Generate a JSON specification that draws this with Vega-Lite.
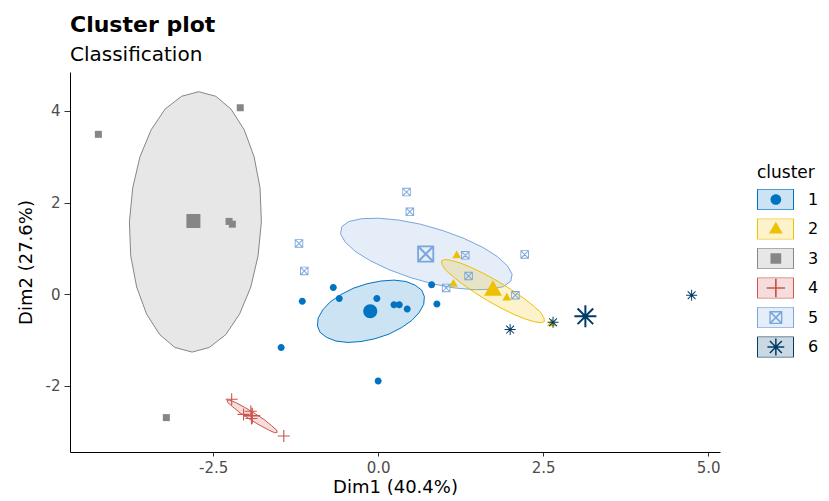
{
  "$schema": "https://vega.github.io/schema/vega-lite/v6.json",
  "width": 650,
  "height": 380,
  "autosize": {"type": "none"},
  "padding": {"left": 70, "top": 72, "right": 109, "bottom": 49},
  "background": "white",
  "title": {
    "text": "Cluster plot",
    "subtitle": "Classification",
    "anchor": "start",
    "frame": "group",
    "font": "DejaVu Sans",
    "fontSize": 22,
    "fontWeight": "bold",
    "color": "#000000",
    "subtitleFont": "DejaVu Sans",
    "subtitleFontSize": 20,
    "subtitleColor": "#000000",
    "subtitlePadding": 8,
    "offset": 6
  },
  "datasets": {
    "ellipses": [
      {"cluster": 3, "i": 0, "x": -1.77, "y": 1.58}, {"cluster": 3, "i": 1, "x": -1.79, "y": 2.32}, {"cluster": 3, "i": 2, "x": -1.88, "y": 3.0}, {"cluster": 3, "i": 3, "x": -2.03, "y": 3.59}, {"cluster": 3, "i": 4, "x": -2.23, "y": 4.04}, {"cluster": 3, "i": 5, "x": -2.46, "y": 4.32}, {"cluster": 3, "i": 6, "x": -2.72, "y": 4.42}, {"cluster": 3, "i": 7, "x": -2.98, "y": 4.32}, {"cluster": 3, "i": 8, "x": -3.23, "y": 4.04}, {"cluster": 3, "i": 9, "x": -3.44, "y": 3.59}, {"cluster": 3, "i": 10, "x": -3.61, "y": 3.0}, {"cluster": 3, "i": 11, "x": -3.72, "y": 2.32}, {"cluster": 3, "i": 12, "x": -3.77, "y": 1.58}, {"cluster": 3, "i": 13, "x": -3.75, "y": 0.84}, {"cluster": 3, "i": 14, "x": -3.66, "y": 0.16}, {"cluster": 3, "i": 15, "x": -3.51, "y": -0.43}, {"cluster": 3, "i": 16, "x": -3.31, "y": -0.88}, {"cluster": 3, "i": 17, "x": -3.08, "y": -1.16}, {"cluster": 3, "i": 18, "x": -2.82, "y": -1.26}, {"cluster": 3, "i": 19, "x": -2.56, "y": -1.16}, {"cluster": 3, "i": 20, "x": -2.31, "y": -0.88}, {"cluster": 3, "i": 21, "x": -2.1, "y": -0.43}, {"cluster": 3, "i": 22, "x": -1.93, "y": 0.16}, {"cluster": 3, "i": 23, "x": -1.82, "y": 0.84},
      {"cluster": 5, "i": 0, "x": 1.96, "y": 0.62}, {"cluster": 5, "i": 1, "x": 1.81, "y": 0.82}, {"cluster": 5, "i": 2, "x": 1.59, "y": 1.02}, {"cluster": 5, "i": 3, "x": 1.3, "y": 1.22}, {"cluster": 5, "i": 4, "x": 0.98, "y": 1.39}, {"cluster": 5, "i": 5, "x": 0.64, "y": 1.53}, {"cluster": 5, "i": 6, "x": 0.31, "y": 1.62}, {"cluster": 5, "i": 7, "x": 0.01, "y": 1.66}, {"cluster": 5, "i": 8, "x": -0.25, "y": 1.65}, {"cluster": 5, "i": 9, "x": -0.44, "y": 1.59}, {"cluster": 5, "i": 10, "x": -0.55, "y": 1.48}, {"cluster": 5, "i": 11, "x": -0.57, "y": 1.32}, {"cluster": 5, "i": 12, "x": -0.5, "y": 1.14}, {"cluster": 5, "i": 13, "x": -0.35, "y": 0.94}, {"cluster": 5, "i": 14, "x": -0.13, "y": 0.74}, {"cluster": 5, "i": 15, "x": 0.16, "y": 0.54}, {"cluster": 5, "i": 16, "x": 0.48, "y": 0.37}, {"cluster": 5, "i": 17, "x": 0.82, "y": 0.23}, {"cluster": 5, "i": 18, "x": 1.15, "y": 0.14}, {"cluster": 5, "i": 19, "x": 1.46, "y": 0.1}, {"cluster": 5, "i": 20, "x": 1.71, "y": 0.11}, {"cluster": 5, "i": 21, "x": 1.9, "y": 0.17}, {"cluster": 5, "i": 22, "x": 2.01, "y": 0.29}, {"cluster": 5, "i": 23, "x": 2.03, "y": 0.44},
      {"cluster": 1, "i": 0, "x": 0.69, "y": -0.22}, {"cluster": 1, "i": 1, "x": 0.7, "y": -0.05}, {"cluster": 1, "i": 2, "x": 0.66, "y": 0.09}, {"cluster": 1, "i": 3, "x": 0.56, "y": 0.2}, {"cluster": 1, "i": 4, "x": 0.42, "y": 0.28}, {"cluster": 1, "i": 5, "x": 0.24, "y": 0.31}, {"cluster": 1, "i": 6, "x": 0.04, "y": 0.29}, {"cluster": 1, "i": 7, "x": -0.17, "y": 0.23}, {"cluster": 1, "i": 8, "x": -0.38, "y": 0.13}, {"cluster": 1, "i": 9, "x": -0.57, "y": -0.01}, {"cluster": 1, "i": 10, "x": -0.73, "y": -0.17}, {"cluster": 1, "i": 11, "x": -0.84, "y": -0.34}, {"cluster": 1, "i": 12, "x": -0.91, "y": -0.52}, {"cluster": 1, "i": 13, "x": -0.92, "y": -0.69}, {"cluster": 1, "i": 14, "x": -0.88, "y": -0.83}, {"cluster": 1, "i": 15, "x": -0.78, "y": -0.94}, {"cluster": 1, "i": 16, "x": -0.64, "y": -1.02}, {"cluster": 1, "i": 17, "x": -0.46, "y": -1.05}, {"cluster": 1, "i": 18, "x": -0.26, "y": -1.03}, {"cluster": 1, "i": 19, "x": -0.05, "y": -0.97}, {"cluster": 1, "i": 20, "x": 0.16, "y": -0.87}, {"cluster": 1, "i": 21, "x": 0.35, "y": -0.73}, {"cluster": 1, "i": 22, "x": 0.51, "y": -0.57}, {"cluster": 1, "i": 23, "x": 0.62, "y": -0.4},
      {"cluster": 2, "i": 0, "x": 2.52, "y": -0.59}, {"cluster": 2, "i": 1, "x": 2.47, "y": -0.62}, {"cluster": 2, "i": 2, "x": 2.37, "y": -0.6}, {"cluster": 2, "i": 3, "x": 2.23, "y": -0.54}, {"cluster": 2, "i": 4, "x": 2.06, "y": -0.44}, {"cluster": 2, "i": 5, "x": 1.86, "y": -0.3}, {"cluster": 2, "i": 6, "x": 1.66, "y": -0.14}, {"cluster": 2, "i": 7, "x": 1.46, "y": 0.04}, {"cluster": 2, "i": 8, "x": 1.28, "y": 0.22}, {"cluster": 2, "i": 9, "x": 1.13, "y": 0.39}, {"cluster": 2, "i": 10, "x": 1.02, "y": 0.53}, {"cluster": 2, "i": 11, "x": 0.97, "y": 0.65}, {"cluster": 2, "i": 12, "x": 0.96, "y": 0.73}, {"cluster": 2, "i": 13, "x": 1.01, "y": 0.76}, {"cluster": 2, "i": 14, "x": 1.11, "y": 0.74}, {"cluster": 2, "i": 15, "x": 1.25, "y": 0.68}, {"cluster": 2, "i": 16, "x": 1.42, "y": 0.58}, {"cluster": 2, "i": 17, "x": 1.62, "y": 0.44}, {"cluster": 2, "i": 18, "x": 1.82, "y": 0.28}, {"cluster": 2, "i": 19, "x": 2.02, "y": 0.1}, {"cluster": 2, "i": 20, "x": 2.2, "y": -0.08}, {"cluster": 2, "i": 21, "x": 2.35, "y": -0.25}, {"cluster": 2, "i": 22, "x": 2.46, "y": -0.39}, {"cluster": 2, "i": 23, "x": 2.51, "y": -0.51},
      {"cluster": 4, "i": 0, "x": -1.53, "y": -3.01}, {"cluster": 4, "i": 1, "x": -1.57, "y": -3.02}, {"cluster": 4, "i": 2, "x": -1.66, "y": -2.96}, {"cluster": 4, "i": 3, "x": -1.79, "y": -2.86}, {"cluster": 4, "i": 4, "x": -1.94, "y": -2.73}, {"cluster": 4, "i": 5, "x": -2.09, "y": -2.59}, {"cluster": 4, "i": 6, "x": -2.2, "y": -2.46}, {"cluster": 4, "i": 7, "x": -2.28, "y": -2.36}, {"cluster": 4, "i": 8, "x": -2.29, "y": -2.31}, {"cluster": 4, "i": 9, "x": -2.25, "y": -2.31}, {"cluster": 4, "i": 10, "x": -2.16, "y": -2.36}, {"cluster": 4, "i": 11, "x": -2.03, "y": -2.46}, {"cluster": 4, "i": 12, "x": -1.88, "y": -2.59}, {"cluster": 4, "i": 13, "x": -1.73, "y": -2.73}, {"cluster": 4, "i": 14, "x": -1.62, "y": -2.86}, {"cluster": 4, "i": 15, "x": -1.54, "y": -2.96}
    ],
    "points": [
      {"cluster": "1", "x": -0.68, "y": 0.15}, {"cluster": "1", "x": -1.15, "y": -0.15}, {"cluster": "1", "x": -0.59, "y": -0.09}, {"cluster": "1", "x": -0.02, "y": -0.09}, {"cluster": "1", "x": 0.24, "y": -0.23}, {"cluster": "1", "x": 0.32, "y": -0.23}, {"cluster": "1", "x": 0.44, "y": -0.32}, {"cluster": "1", "x": 0.81, "y": 0.21}, {"cluster": "1", "x": 0.89, "y": -0.21}, {"cluster": "1", "x": -1.47, "y": -1.16}, {"cluster": "1", "x": 0.0, "y": -1.89},
      {"cluster": "2", "x": 1.19, "y": 0.85}, {"cluster": "2", "x": 1.14, "y": 0.23}, {"cluster": "2", "x": 1.95, "y": -0.07}, {"cluster": "2", "x": 2.63, "y": -0.63},
      {"cluster": "3", "x": -4.24, "y": 3.49}, {"cluster": "3", "x": -2.09, "y": 4.07}, {"cluster": "3", "x": -2.26, "y": 1.59}, {"cluster": "3", "x": -2.21, "y": 1.53}, {"cluster": "3", "x": -3.21, "y": -2.69},
      {"cluster": "4", "x": -2.22, "y": -2.29}, {"cluster": "4", "x": -2.04, "y": -2.62}, {"cluster": "4", "x": -1.93, "y": -2.55}, {"cluster": "4", "x": -1.92, "y": -2.71}, {"cluster": "4", "x": -1.43, "y": -3.09},
      {"cluster": "5", "x": 0.43, "y": 2.23}, {"cluster": "5", "x": 0.48, "y": 1.8}, {"cluster": "5", "x": -1.2, "y": 1.11}, {"cluster": "5", "x": -1.12, "y": 0.51}, {"cluster": "5", "x": 1.32, "y": 0.85}, {"cluster": "5", "x": 1.37, "y": 0.4}, {"cluster": "5", "x": 1.03, "y": 0.14}, {"cluster": "5", "x": 2.22, "y": 0.87}, {"cluster": "5", "x": 2.08, "y": -0.02},
      {"cluster": "6", "x": 2.0, "y": -0.77}, {"cluster": "6", "x": 2.65, "y": -0.61}, {"cluster": "6", "x": 4.75, "y": -0.02}
    ],
    "centers": [
      {"cluster": "1", "x": -0.12, "y": -0.37},
      {"cluster": "2", "x": 1.74, "y": 0.1},
      {"cluster": "3", "x": -2.8, "y": 1.6},
      {"cluster": "4", "x": -1.91, "y": -2.65},
      {"cluster": "5", "x": 0.72, "y": 0.88},
      {"cluster": "6", "x": 3.14, "y": -0.48}
    ]
  },
  "layer": [
    {
      "data": {"name": "ellipses"},
      "mark": {"type": "line", "interpolate": "linear-closed", "fillOpacity": 0.2, "strokeWidth": 1},
      "encoding": {
        "x": {"field": "x", "type": "quantitative", "scale": {"domain": [-4.67, 5.18], "nice": false, "zero": false},
              "axis": {"title": "Dim1 (40.4%)", "values": [-2.5, 0, 2.5, 5], "format": ".1f", "tickSize": 4, "labelPadding": 4, "titlePadding": 3}},
        "y": {"field": "y", "type": "quantitative", "scale": {"domain": [-3.44, 4.85], "nice": false, "zero": false},
              "axis": {"title": "Dim2 (27.6%)", "values": [-2, 0, 2, 4], "format": "d", "tickSize": 6, "labelPadding": 4, "titlePadding": 10}},
        "order": {"field": "i", "type": "quantitative"},
        "fill": {"field": "cluster", "type": "nominal", "scale": {"domain": [1, 2, 3, 4, 5, 6], "range": ["#0073C2", "#EFC000", "#868686", "#CD534C", "#7AA6DC", "#003C67"]},
                 "legend": {"title": "cluster", "orient": "none", "legendX": 687, "legendY": 93, "symbolType": "M-1,-0.575L1,-0.575L1,0.575L-1,0.575Z", "symbolSize": 1296, "symbolStrokeWidth": 1, "clipHeight": 21, "rowPadding": 8.5, "titlePadding": 7, "labelOffset": 14,
                            "encode": {"symbols": {"update": {"fill": {"scale": "fill", "field": "value"}, "fillOpacity": {"value": 0.2}, "stroke": {"scale": "stroke", "field": "value"}, "strokeOpacity": {"value": 1}}}}}},
        "stroke": {"field": "cluster", "type": "nominal", "scale": {"domain": [1, 2, 3, 4, 5, 6], "range": ["#0073C2", "#EFC000", "#868686", "#CD534C", "#7AA6DC", "#003C67"]},
                 "legend": {"title": "cluster", "orient": "none", "legendX": 687, "legendY": 93, "symbolType": "M-1,-0.575L1,-0.575L1,0.575L-1,0.575Z", "symbolSize": 1296, "symbolStrokeWidth": 1, "clipHeight": 21, "rowPadding": 8.5, "titlePadding": 7, "labelOffset": 14,
                            "encode": {"symbols": {"update": {"fill": {"scale": "fill", "field": "value"}, "fillOpacity": {"value": 0.2}, "stroke": {"scale": "stroke", "field": "value"}, "strokeOpacity": {"value": 1}}}}}}
      }
    },
    {
      "data": {"name": "points"},
      "mark": {"type": "point", "filled": true, "opacity": 1, "size": 100},
      "encoding": {
        "x": {"field": "x", "type": "quantitative"},
        "y": {"field": "y", "type": "quantitative"},
        "color": {"field": "cluster", "type": "nominal", "scale": {"domain": ["1", "2", "3", "4", "5", "6"], "range": ["#0073C2", "#EFC000", "#868686", "#CD534C", "#7AA6DC", "#003C67"]},
                  "legend": {"title": "cluster", "titleOpacity": 0, "labelOpacity": 0, "orient": "none", "legendX": 687, "legendY": 93, "symbolSize": 234, "symbolOffset": 10.35, "clipHeight": 21, "rowPadding": 8.5, "titlePadding": 7, "labelOffset": 14, "zindex": 1}},
        "shape": {"field": "cluster", "type": "nominal", "scale": {"domain": ["1", "2", "3", "4", "5", "6"], "range": [
                    "M0.7,0A0.7,0.7,0,1,1,-0.7,0A0.7,0.7,0,1,1,0.7,0Z",
                    "M0,-0.95L0.9,0.6L-0.9,0.6Z",
                    "M-0.7,-0.7L0.7,-0.7L0.7,0.7L-0.7,0.7Z",
                    "M-1.2,-0.11L-0.11,-0.11L-0.11,-1.2L0.11,-1.2L0.11,-0.11L1.2,-0.11L1.2,0.11L0.11,0.11L0.11,1.2L-0.11,1.2L-0.11,0.11L-1.2,0.11Z",
                    "M-0.85,-0.85L0.85,-0.85L0.85,0.85L-0.85,0.85ZM-0.67,-0.67L-0.67,0.67L0.67,0.67L0.67,-0.67ZM-0.599,-0.741L0.741,0.599L0.599,0.741L-0.741,-0.599ZM-0.741,0.599L0.599,-0.741L0.741,-0.599L-0.599,0.741Z",
                    "M-0.1,-1.1L0.1,-1.1L0.1,1.1L-0.1,1.1ZM-1.1,-0.1L1.1,-0.1L1.1,0.1L-1.1,0.1ZM-0.709,-0.851L0.851,0.709L0.709,0.851L-0.851,-0.709ZM-0.851,0.709L0.709,-0.851L0.851,-0.709L-0.709,0.851Z"
                  ]},
                  "legend": {"title": "cluster", "titleOpacity": 0, "labelOpacity": 0, "orient": "none", "legendX": 687, "legendY": 93, "symbolSize": 234, "symbolOffset": 10.35, "clipHeight": 21, "rowPadding": 8.5, "titlePadding": 7, "labelOffset": 14, "zindex": 1}}
      }
    },
    {
      "data": {"name": "centers"},
      "transform": [{"filter": "datum.cluster != '4'"}],
      "mark": {"type": "point", "filled": true, "opacity": 1, "size": 400},
      "encoding": {
        "x": {"field": "x", "type": "quantitative"},
        "y": {"field": "y", "type": "quantitative"},
        "color": {"field": "cluster", "type": "nominal"},
        "shape": {"field": "cluster", "type": "nominal"}
      }
    },
    {
      "data": {"name": "centers"},
      "transform": [{"filter": "datum.cluster == '4'"}],
      "mark": {"type": "point", "filled": true, "opacity": 1, "size": 180},
      "encoding": {
        "x": {"field": "x", "type": "quantitative"},
        "y": {"field": "y", "type": "quantitative"},
        "color": {"field": "cluster", "type": "nominal"},
        "shape": {"field": "cluster", "type": "nominal"}
      }
    }
  ],
  "config": {
    "locale": {"number": {"decimal": ".", "thousands": ",", "grouping": [3], "currency": ["$", ""], "minus": "-"}},
    "view": {"stroke": null},
    "axis": {
      "grid": false,
      "domainColor": "#000000",
      "domainWidth": 1,
      "tickColor": "#333333",
      "tickWidth": 1,
      "labelColor": "#4d4d4d",
      "labelFont": "DejaVu Sans",
      "labelFontSize": 15,
      "titleFont": "DejaVu Sans",
      "titleFontSize": 18,
      "titleFontWeight": "normal",
      "titleColor": "#000000"
    },
    "legend": {
      "titleFont": "DejaVu Sans",
      "titleFontSize": 17,
      "titleFontWeight": "normal",
      "titleColor": "#000000",
      "labelFont": "DejaVu Sans",
      "labelFontSize": 16,
      "labelColor": "#000000"
    }
  }
}
